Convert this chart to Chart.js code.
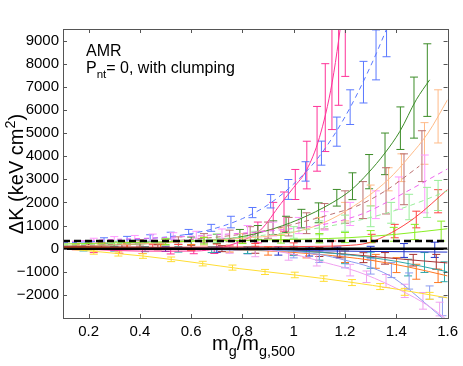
<!DOCTYPE html>
<html>
<head>
<meta charset="utf-8">
<script src="https://cdn.jsdelivr.net/npm/chart.js@4/dist/chart.umd.min.js"></script>
<style>
  body { margin: 0; background: #fff; }
  #wrap { position: relative; width: 463px; height: 366px; font-family: 'Liberation Sans', Arial, sans-serif; color: #000; }
  canvas { position: absolute; left: 0; top: 0; }
  .lbl { position: absolute; white-space: nowrap; }
  .lbl sub { font-size: 0.72em; vertical-align: -0.4em; line-height: 0; }
  .lbl sup { font-size: 0.72em; vertical-align: 0.55em; line-height: 0; }
</style>
</head>
<body>
<div id="wrap">
  <canvas id="chart" width="463" height="366"></canvas>
  <div class="lbl" style="left:86px; top:43px; font-size:16px; line-height:16px;">AMR</div>
  <div class="lbl" style="left:86px; top:60px; font-size:16px; line-height:16px;">P<sub>nt</sub>= 0, with clumping</div>
  <div class="lbl" style="left:212px; top:333px; font-size:20px; line-height:20px;">m<sub>g</sub>/m<sub>g,500</sub></div>
  <div class="lbl" style="left:-84px; top:164px; width:200px; text-align:center; font-size:20px; line-height:20px; transform:rotate(-90deg);">&Delta;K (keV cm<sup>2</sup>)</div>
</div>
<script>
// axis ticks
const xTicks = [0.2, 0.4, 0.6, 0.8, 1, 1.2, 1.4, 1.6];
const yTicks = [-2000, -1000, 0, 1000, 2000, 3000, 4000, 5000, 6000, 7000, 8000, 9000];
const refLevels = [0, 330];   // black solid and black dashed lines

// hot pink, solid fit
const pinkFitX = [0.1, 0.3, 0.5, 0.62, 0.7, 0.8, 0.87, 0.95, 1.0, 1.05, 1.1, 1.15, 1.2];
const pinkFitY = [50, -80, -110, -100, 0, 350, 800, 1950, 2650, 3400, 4800, 7200, 11000];
const pinkBarX = [0.22, 0.32, 0.41, 0.52, 0.61, 0.69, 0.78, 0.86, 0.92, 0.962, 1.006, 1.051, 1.091, 1.123, 1.149, 1.175, 1.201];
const pinkBarY = [-70, -100, -110, -120, -110, -100, 150, 700, 1300, 1600, 2775, 3615, 4750, 6100, 7500, 8500, 9500];
const pinkBarE = [100, 100, 100, 110, 110, 110, 200, 450, 700, 850, 650, 1030, 1400, 1900, 2350, 2300, 2050];

// blue, dashed fit
const blueFitX = [0.1, 0.3, 0.5, 0.6, 0.7, 0.8, 0.9, 1.0, 1.1, 1.2, 1.3, 1.4];
const blueFitY = [250, 350, 500, 650, 900, 1300, 1900, 2800, 4000, 5700, 7900, 10500];
const blueBarX = [0.26, 0.35, 0.44, 0.52, 0.59, 0.678, 0.755, 0.839, 0.91, 0.979, 1.046, 1.108, 1.168, 1.22, 1.272, 1.321, 1.362];
const blueBarY = [350, 400, 460, 560, 720, 900, 1150, 1560, 2050, 2560, 3340, 4130, 5060, 6120, 7200, 8380, 9600];
const blueBarE = [120, 130, 140, 150, 110, 150, 250, 220, 290, 430, 420, 520, 630, 750, 900, 1080, 1300];

// dark green, solid fit
const greenFitX = [0.1, 0.4, 0.6, 0.76, 0.89, 1.02, 1.15, 1.226, 1.291, 1.356, 1.414, 1.478, 1.53];
const greenFitY = [100, 200, 330, 450, 760, 1265, 1984, 2558, 3279, 4141, 5073, 6441, 7300];
const greenBarX = [0.2, 0.3, 0.4, 0.5, 0.6, 0.7, 0.79, 0.86, 0.92, 0.97, 1.03, 1.097, 1.168, 1.229, 1.294, 1.356, 1.416, 1.469, 1.521];
const greenBarY = [100, 160, 200, 260, 330, 420, 580, 700, 900, 1050, 1300, 1550, 2200, 2700, 3330, 4100, 5210, 6100, 7290];
const greenBarE = [150, 150, 150, 150, 170, 200, 250, 300, 300, 350, 400, 430, 360, 580, 740, 900, 920, 1320, 1570];

// peach, solid fit
const peachFitX = [0.1, 0.5, 0.8, 0.955, 1.085, 1.214, 1.369, 1.452, 1.524, 1.6];
const peachFitY = [100, 250, 450, 618, 978, 1697, 2990, 4000, 5004, 6442];
const peachBarX = [0.2, 0.35, 0.5, 0.65, 0.8, 0.95, 1.1, 1.2, 1.3, 1.37, 1.42, 1.51, 1.563];
const peachBarY = [100, 150, 250, 330, 450, 620, 1000, 1600, 2300, 3000, 3500, 4550, 5720];
const peachBarE = [120, 130, 150, 180, 200, 280, 350, 400, 450, 500, 600, 900, 1150];

// rosy brown, dashed fit
const brownFitX = [0.1, 0.4, 0.7, 0.9, 1.05, 1.15, 1.246, 1.356, 1.49];
const brownFitY = [100, 250, 500, 800, 1200, 1500, 1840, 2490, 3570];
const brownBarX = [0.25, 0.4, 0.55, 0.65, 0.75, 0.83, 0.9, 0.98, 1.05, 1.12, 1.2, 1.27, 1.36, 1.43, 1.5];
const brownBarY = [150, 250, 350, 450, 550, 650, 800, 950, 1100, 1400, 1800, 2100, 2500, 3000, 4000];
const brownBarE = [120, 140, 160, 200, 250, 300, 350, 400, 450, 550, 700, 800, 1000, 1100, 1100];

// violet, dashed fit
const violetFitX = [0.1, 0.3, 0.5, 0.7, 0.92, 1.149, 1.278, 1.407, 1.6];
const violetFitY = [300, 400, 480, 600, 780, 1120, 1550, 2270, 3450];
const violetBarX = [0.22, 0.3, 0.38, 0.45, 0.53, 0.62, 0.72, 0.82, 0.92, 1.02, 1.12, 1.22, 1.32, 1.41, 1.511];
const violetBarY = [350, 400, 450, 500, 550, 600, 650, 750, 850, 1000, 1200, 1500, 1900, 2400, 2800];
const violetBarE = [100, 120, 120, 130, 140, 150, 200, 250, 300, 350, 400, 500, 600, 700, 1250];

// pale green, dashed fit
const paleFitX = [0.1, 0.6, 0.9, 1.1, 1.3, 1.45, 1.6];
const paleFitY = [150, 350, 600, 900, 1350, 1850, 2500];
const paleBarX = [0.3, 0.5, 0.7, 0.85, 1.0, 1.1, 1.2, 1.3, 1.38, 1.45, 1.52, 1.563];
const paleBarY = [200, 300, 450, 550, 700, 900, 1100, 1400, 1550, 1800, 2000, 2300];
const paleBarE = [120, 150, 180, 200, 250, 300, 350, 450, 450, 550, 650, 650];

// red, solid fit
const redFitX = [0.1, 0.5, 0.9, 1.1, 1.2, 1.29, 1.381, 1.472, 1.6];
const redFitY = [50, 60, 80, 100, 130, 250, 690, 1337, 2558];
const redBarX = [0.15, 0.25, 0.35, 0.45, 0.55, 0.7, 0.85, 1.0, 1.15, 1.304, 1.394, 1.478, 1.563];
const redBarY = [50, 60, 60, 70, 70, 80, 90, 100, 150, 440, 760, 1260, 2050];
const redBarE = [100, 100, 100, 100, 110, 120, 130, 150, 180, 180, 290, 360, 500];

// lime, solid fit
const limeFitX = [0.1, 0.5, 0.9, 1.215, 1.4, 1.6];
const limeFitY = [200, 300, 380, 474, 620, 862];
const limeBarX = [0.5, 0.65, 0.8, 0.95, 1.1, 1.2, 1.3, 1.39, 1.472, 1.575];
const limeBarY = [300, 340, 370, 410, 450, 480, 520, 620, 720, 760];
const limeBarE = [120, 140, 150, 170, 200, 220, 260, 300, 330, 430];

// dark blue, solid fit
const navyFitX = [0.1, 0.6, 1.0, 1.3, 1.6];
const navyFitY = [0, -30, -80, -120, -150];
const navyBarX = [0.3, 0.5, 0.7, 0.82, 0.94, 1.06, 1.17, 1.3, 1.43, 1.55];
const navyBarY = [0, -20, -40, -70, -100, -120, -150, -150, -80, -50];
const navyBarE = [90, 100, 120, 150, 180, 200, 220, 250, 300, 330];

// teal, solid fit
const tealFitX = [0.1, 0.6, 1.0, 1.2, 1.4, 1.6];
const tealFitY = [0, -30, -100, -250, -550, -1000];
const tealBarX = [0.18, 0.3, 0.42, 0.55, 0.68, 0.82, 1.0, 1.1, 1.2, 1.3, 1.446, 1.51, 1.588];
const tealBarY = [0, 0, -20, -30, -40, -60, -100, -250, -350, -500, -820, -600, -1000];
const tealBarE = [100, 100, 110, 120, 130, 150, 200, 250, 300, 350, 360, 430, 430];

// orange, solid fit
const orangeFitX = [0.1, 0.6, 0.9, 1.1, 1.3, 1.45, 1.6];
const orangeFitY = [50, 0, -100, -250, -500, -800, -1180];
const orangeBarX = [0.15, 0.25, 0.35, 0.48, 0.6, 0.75, 0.9, 1.05, 1.2, 1.32, 1.401, 1.478, 1.563];
const orangeBarY = [100, 120, 100, 80, 50, 0, -100, -200, -350, -550, -712, -1000, -1180];
const orangeBarE = [100, 100, 110, 120, 130, 150, 180, 200, 250, 300, 323, 323, 287];

// dark red, solid fit
const maroonFitX = [0.1, 0.5, 0.9, 1.1, 1.3, 1.45, 1.6];
const maroonFitY = [100, 50, -50, -150, -330, -480, -620];
const maroonBarX = [0.2, 0.33, 0.47, 0.6, 0.72, 0.85, 1.0, 1.1, 1.18, 1.272, 1.356, 1.466, 1.556];
const maroonBarY = [100, 90, 60, 30, 0, -50, -100, -150, -200, -390, -420, -500, -570];
const maroonBarE = [100, 100, 110, 120, 130, 150, 170, 190, 200, 215, 250, 250, 320];

// yellow, solid fit
const yellowFitX = [0.1, 0.412, 0.645, 0.787, 1.004, 1.214, 1.4, 1.6];
const yellowFitY = [0, -319, -647, -863, -1139, -1440, -1750, -2130];
const yellowBarX = [0.22, 0.316, 0.412, 0.522, 0.645, 0.761, 0.888, 1.004, 1.117, 1.227, 1.337, 1.433, 1.53];
const yellowBarY = [-150, -230, -319, -462, -647, -820, -1009, -1139, -1295, -1467, -1640, -1869, -2042];
const yellowBarE = [90, 90, 100, 100, 100, 110, 110, 120, 120, 130, 130, 150, 150];

// plum, solid fit
const plumFitX = [0.1, 0.6, 0.865, 1.0, 1.123, 1.25, 1.381, 1.5, 1.562, 1.62];
const plumFitY = [0, 20, -30, -250, -604, -1000, -1613, -2300, -2761, -3300];
const plumBarX = [0.75, 0.85, 0.98, 1.09, 1.22, 1.284, 1.36, 1.433, 1.504, 1.569];
const plumBarY = [-50, -150, -300, -500, -930, -1216, -1400, -1827, -2258, -2612];
const plumBarE = [150, 200, 200, 250, 250, 250, 280, 287, 360, 295];

// cornflower, solid fit
const cornFitX = [0.1, 0.9, 1.1, 1.2, 1.304, 1.394, 1.51, 1.6];
const cornFitY = [0, -50, -250, -500, -820, -1300, -2330, -3200];
const cornBarX = [1.0, 1.1, 1.2, 1.3, 1.381, 1.45, 1.53, 1.58];
const cornBarY = [-200, -350, -550, -800, -928, -1400, -1900, -2500];
const cornBarE = [200, 250, 280, 300, 323, 350, 287, 400];

function fitLine(color, xs, ys, dash) {
  return {
    data: xs.map((x, i) => ({x: x, y: ys[i]})),
    borderColor: color,
    borderWidth: 1,
    borderDash: dash || [],
    pointRadius: 0,
    cubicInterpolationMode: 'monotone',
    order: 1
  };
}

function errBars(color, xs, ys, es) {
  const pts = [];
  xs.forEach((x, i) => {
    pts.push({x: x, y: ys[i] - es[i]});
    pts.push({x: x, y: ys[i] + es[i]});
    pts.push({x: x, y: null});
  });
  return {
    data: pts,
    borderColor: color,
    borderWidth: 1,
    spanGaps: false,
    pointStyle: 'line',
    pointRadius: 4,
    pointBorderWidth: 1,
    pointBorderColor: color,
    pointBackgroundColor: color,
    order: 2
  };
}

function refLine(level, width, dash) {
  return {
    data: [{x: 0.1, y: level}, {x: 1.6, y: level}],
    borderColor: '#000',
    borderWidth: width,
    borderDash: dash,
    pointRadius: 0,
    order: 0
  };
}

const datasets = [
  errBars('#ffdd33', yellowBarX, yellowBarY, yellowBarE), fitLine('#ffdd33', yellowFitX, yellowFitY),
  errBars('#f0a0f0', plumBarX, plumBarY, plumBarE), fitLine('#f0a0f0', plumFitX, plumFitY),
  errBars('#8c9cf0', cornBarX, cornBarY, cornBarE), fitLine('#8c9cf0', cornFitX, cornFitY),
  errBars('#2fa8a8', tealBarX, tealBarY, tealBarE), fitLine('#2fa8a8', tealFitX, tealFitY),
  errBars('#ff7722', orangeBarX, orangeBarY, orangeBarE), fitLine('#ff7722', orangeFitX, orangeFitY),
  errBars('#a83232', maroonBarX, maroonBarY, maroonBarE), fitLine('#a83232', maroonFitX, maroonFitY),
  errBars('#2233cc', navyBarX, navyBarY, navyBarE), fitLine('#2233cc', navyFitX, navyFitY),
  errBars('#88ee22', limeBarX, limeBarY, limeBarE), fitLine('#88ee22', limeFitX, limeFitY),
  errBars('#99ee99', paleBarX, paleBarY, paleBarE), fitLine('#99ee99', paleFitX, paleFitY, [5, 4]),
  errBars('#ff4444', redBarX, redBarY, redBarE), fitLine('#ff4444', redFitX, redFitY),
  errBars('#ff99ff', violetBarX, violetBarY, violetBarE), fitLine('#ee66ee', violetFitX, violetFitY, [5, 4]),
  errBars('#bb7070', brownBarX, brownBarY, brownBarE), fitLine('#bb7070', brownFitX, brownFitY, [5, 4]),
  errBars('#ffbb88', peachBarX, peachBarY, peachBarE), fitLine('#ffbb88', peachFitX, peachFitY),
  errBars('#3c8c28', greenBarX, greenBarY, greenBarE), fitLine('#3c8c28', greenFitX, greenFitY),
  errBars('#5a78ff', blueBarX, blueBarY, blueBarE), fitLine('#5a78ff', blueFitX, blueFitY, [5, 4]),
  errBars('#ff3399', pinkBarX, pinkBarY, pinkBarE), fitLine('#ff3399', pinkFitX, pinkFitY),
  refLine(refLevels[0], 2.5, []),
  refLine(refLevels[1], 2.5, [7, 4])
];

// box round the plot and inward tick marks, as in the original
const framePlugin = {
  id: 'frame',
  afterDraw(chart) {
    const ctx = chart.ctx;
    const a = chart.chartArea;
    const xs = chart.scales.x, ys = chart.scales.y;
    ctx.save();
    ctx.strokeStyle = '#555';
    ctx.lineWidth = 1;
    ctx.strokeRect(Math.round(a.left) + 0.5, Math.round(a.top) + 0.5,
                   Math.round(a.right - a.left), Math.round(a.bottom - a.top));
    ctx.beginPath();
    xTicks.forEach(v => {
      const px = Math.round(xs.getPixelForValue(v)) + 0.5;
      ctx.moveTo(px, a.bottom); ctx.lineTo(px, a.bottom - 4);
      ctx.moveTo(px, a.top); ctx.lineTo(px, a.top + 4);
    });
    yTicks.forEach(v => {
      const py = Math.round(ys.getPixelForValue(v)) + 0.5;
      ctx.moveTo(a.left, py); ctx.lineTo(a.left + 4, py);
      ctx.moveTo(a.right, py); ctx.lineTo(a.right - 4, py);
    });
    ctx.stroke();
    ctx.restore();
  }
};

new Chart(document.getElementById('chart'), {
  type: 'line',
  data: { datasets: datasets },
  options: {
    responsive: false,
    devicePixelRatio: 1,
    animation: false,
    layout: { padding: { top: 29, right: 12.3, left: 0, bottom: 0 } },
    plugins: { legend: { display: false }, tooltip: { enabled: false } },
    scales: {
      x: {
        type: 'linear',
        min: 0.1,
        max: 1.6,
        afterBuildTicks: s => { s.ticks = xTicks.map(v => ({value: v})); },
        afterFit: s => { s.height = 48; },
        grid: { display: false, drawTicks: false },
        border: { display: false },
        ticks: {
          padding: 5,
          color: '#000',
          font: { family: "'Liberation Sans', Arial", size: 15 },
          maxRotation: 0,
          callback: v => String(v)
        }
      },
      y: {
        type: 'linear',
        min: -3000,
        max: 9500,
        afterBuildTicks: s => { s.ticks = yTicks.map(v => ({value: v})); },
        afterFit: s => { s.width = 63; },
        grid: { display: false, drawTicks: false },
        border: { display: false },
        ticks: {
          padding: 4,
          color: '#000',
          font: { family: "'Liberation Sans', Arial", size: 15 },
          callback: v => (v < 0 ? '\u2212' + Math.abs(v) : String(v))
        }
      }
    }
  },
  plugins: [framePlugin]
});
</script>
</body>
</html>
